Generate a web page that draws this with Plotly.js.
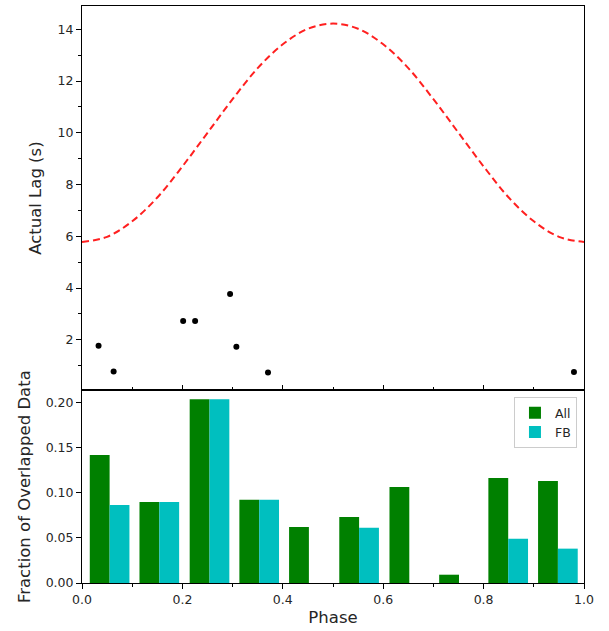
<!DOCTYPE html>
<html>
<head>
<meta charset="utf-8">
<script src="https://cdn.plot.ly/plotly-3.0.1.min.js"></script>
<style>html,body{margin:0;padding:0;background:#fff;}#chart{width:609px;height:631px;}</style>
</head>
<body>
<div id="chart"></div>
<script>
// Model curve
const curvePhase = [0,0.05,0.1,0.15,0.2,0.25,0.3,0.35,0.4,0.45,0.5,0.55,0.6,0.65,0.7,0.75,0.8,0.85,0.9,0.95,1.0];
const curveLag   = [5.78,5.98,6.58,7.5,8.7,10.0,11.3,12.5,13.42,14.02,14.22,14.02,13.42,12.5,11.3,10.0,8.7,7.5,6.58,5.98,5.78];
// Measured lags
const pointPhase = [0.033,0.063,0.2015,0.2253,0.295,0.3075,0.3705,0.980];
const pointLag   = [1.77,0.78,2.73,2.73,3.77,1.73,0.74,0.76];
// Histogram
const binCenters = [0.055,0.154,0.254,0.353,0.452,0.552,0.652,0.751,0.849,0.948];
const fracAll = [0.142,0.0898,0.2037,0.0924,0.0621,0.0732,0.1065,0.0092,0.1165,0.1131];
const fracFB  = [0.0865,0.0898,0.2037,0.0924,0,0.0614,0,0,0.0492,0.0381];

const font = {family:'DejaVu Sans, sans-serif', size:12.5, color:'#262626'};
const titleFont = {family:'DejaVu Sans, sans-serif', size:16.5, color:'#262626'};
const traces = [
  {x:curvePhase, y:curveLag, type:'scatter', mode:'lines', line:{color:'#ff2020', width:2, dash:'7px,4px', shape:'spline'}, xaxis:'x', yaxis:'y', showlegend:false, hoverinfo:'skip'},
  {x:pointPhase, y:pointLag, type:'scatter', mode:'markers', marker:{color:'#000', size:6}, xaxis:'x', yaxis:'y', showlegend:false},
  {x:binCenters, y:fracAll, type:'bar', name:'All', marker:{color:'#008000'}, width:0.0395, offset:-0.0395, xaxis:'x2', yaxis:'y2'},
  {x:binCenters, y:fracFB, type:'bar', name:'FB', marker:{color:'#00bfbf'}, width:0.0395, offset:0, xaxis:'x2', yaxis:'y2'}
];
const layout = {
  width:609, height:631,
  margin:{l:82, r:25, t:6, b:48},
  paper_bgcolor:'#fff', plot_bgcolor:'#fff',
  font: font,
  barmode:'overlay',
  showlegend:true,
  legend:{x:0.986, xanchor:'right', y:0.322, yanchor:'top', bgcolor:'rgba(255,255,255,0.8)', bordercolor:'#cccccc', borderwidth:1, font:{family:'DejaVu Sans, sans-serif', size:12.5, color:'#262626'}, tracegroupgap:2},
  xaxis:{domain:[0,1], anchor:'y', range:[0,1], showline:true, linecolor:'#000', linewidth:1, mirror:true, showgrid:false, zeroline:false,
    showticklabels:false, ticks:'inside', tickvals:[0,0.2,0.4,0.6,0.8,1.0], ticklen:5, tickcolor:'#000',
    minor:{tickvals:[0.1,0.3,0.5,0.7,0.9], ticks:'inside', ticklen:3, tickcolor:'#000'}},
  yaxis:{domain:[0.334,1], anchor:'x', range:[0.05,14.9], showline:true, linecolor:'#000', linewidth:1, mirror:true, showgrid:false, zeroline:false,
    ticks:'outside', tickvals:[2,4,6,8,10,12,14], ticklen:5, tickcolor:'#000',
    minor:{tickvals:[1,3,5,7,9,11,13], ticks:'outside', ticklen:3, tickcolor:'#000'},
    title:{text:'Actual Lag (s)', font:titleFont, standoff:11}},
  xaxis2:{domain:[0,1], anchor:'y2', range:[0,1], showline:true, linecolor:'#000', linewidth:1, mirror:true, showgrid:false, zeroline:false,
    ticks:'outside', tickvals:[0,0.2,0.4,0.6,0.8,1.0], ticktext:['0.0','0.2','0.4','0.6','0.8','1.0'], ticklen:5, tickcolor:'#000',
    minor:{tickvals:[0.1,0.3,0.5,0.7,0.9], ticks:'outside', ticklen:3, tickcolor:'#000'},
    title:{text:'Phase', font:titleFont, standoff:5}},
  yaxis2:{domain:[0,0.334], anchor:'x2', range:[0,0.2137], showline:true, linecolor:'#000', linewidth:1, mirror:true, showgrid:false, zeroline:false,
    ticks:'outside', tickvals:[0,0.05,0.1,0.15,0.2], ticktext:['0.00','0.05','0.10','0.15','0.20'], ticklen:5, tickcolor:'#000',
    title:{text:'Fraction of Overlapped Data', font:titleFont, standoff:10}}
};
Plotly.newPlot('chart', traces, layout, {displayModeBar:false, staticPlot:true});
</script>
</body>
</html>
